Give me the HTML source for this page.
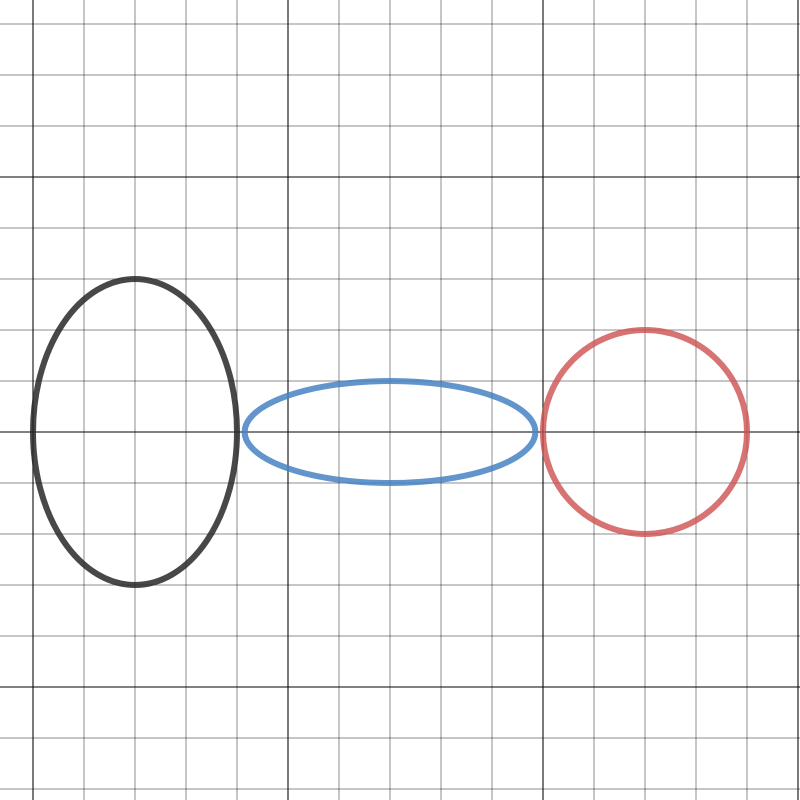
<!DOCTYPE html>
<html><head><meta charset="utf-8"><style>html,body{margin:0;padding:0;background:#fff}svg{display:block}</style></head>
<body>
<svg id="chart" width="800" height="800" viewBox="0 0 800 800" xmlns="http://www.w3.org/2000/svg">
<g id="grid"></g>
<g id="curves"></g>
</svg>
<script>
const curveNames = ["black-ellipse", "blue-ellipse", "red-circle"];
const centersX = [-3, 2, 7];
const centersY = [0, 0, 0];
const radiiX = [2, 2.85, 2];
const radiiY = [3, 1, 2];
const colors = ["rgba(40,40,40,0.85)", "rgba(70,130,195,0.85)", "rgba(205,80,80,0.8)"];

const ox = 288, oy = 432, unit = 51;
const sx = v => ox + v * unit;
const sy = v => oy - v * unit;
const NS = "http://www.w3.org/2000/svg";
const grid = document.getElementById("grid");
for (let k = -6; k <= 10; k++) {
  const x = sx(k);
  if (x < 0 || x > 800) continue;
  const l = document.createElementNS(NS, "line");
  
  
  l.setAttribute("x1", x); l.setAttribute("x2", x); l.setAttribute("y1", 0); l.setAttribute("y2", 800);
  const major = ((k % 5) + 5) % 5 === 0;
  l.setAttribute("stroke", major ? "rgba(0,0,0,0.8)" : "rgba(0,0,0,0.45)");
  l.setAttribute("stroke-width", major ? 1.3 : 1);
  grid.appendChild(l);
}
for (let k = -8; k <= 9; k++) {
  const y = sy(k);
  if (y < 0 || y > 800) continue;
  const l = document.createElementNS(NS, "line");
  
  
  l.setAttribute("y1", y); l.setAttribute("y2", y); l.setAttribute("x1", 0); l.setAttribute("x2", 800);
  const major = ((k % 5) + 5) % 5 === 0;
  l.setAttribute("stroke", major ? "rgba(0,0,0,0.8)" : "rgba(0,0,0,0.45)");
  l.setAttribute("stroke-width", major ? 1.3 : 1);
  grid.appendChild(l);
}
const curves = document.getElementById("curves");
for (let i = 0; i < curveNames.length; i++) {
  const e = document.createElementNS(NS, "ellipse");
  
  
  e.setAttribute("cx", sx(centersX[i]));
  e.setAttribute("cy", sy(centersY[i]));
  e.setAttribute("rx", radiiX[i] * unit);
  e.setAttribute("ry", radiiY[i] * unit);
  e.setAttribute("fill", "none");
  e.setAttribute("stroke", colors[i]);
  e.setAttribute("stroke-width", 6);
  curves.appendChild(e);
}
</script>
</body></html>
